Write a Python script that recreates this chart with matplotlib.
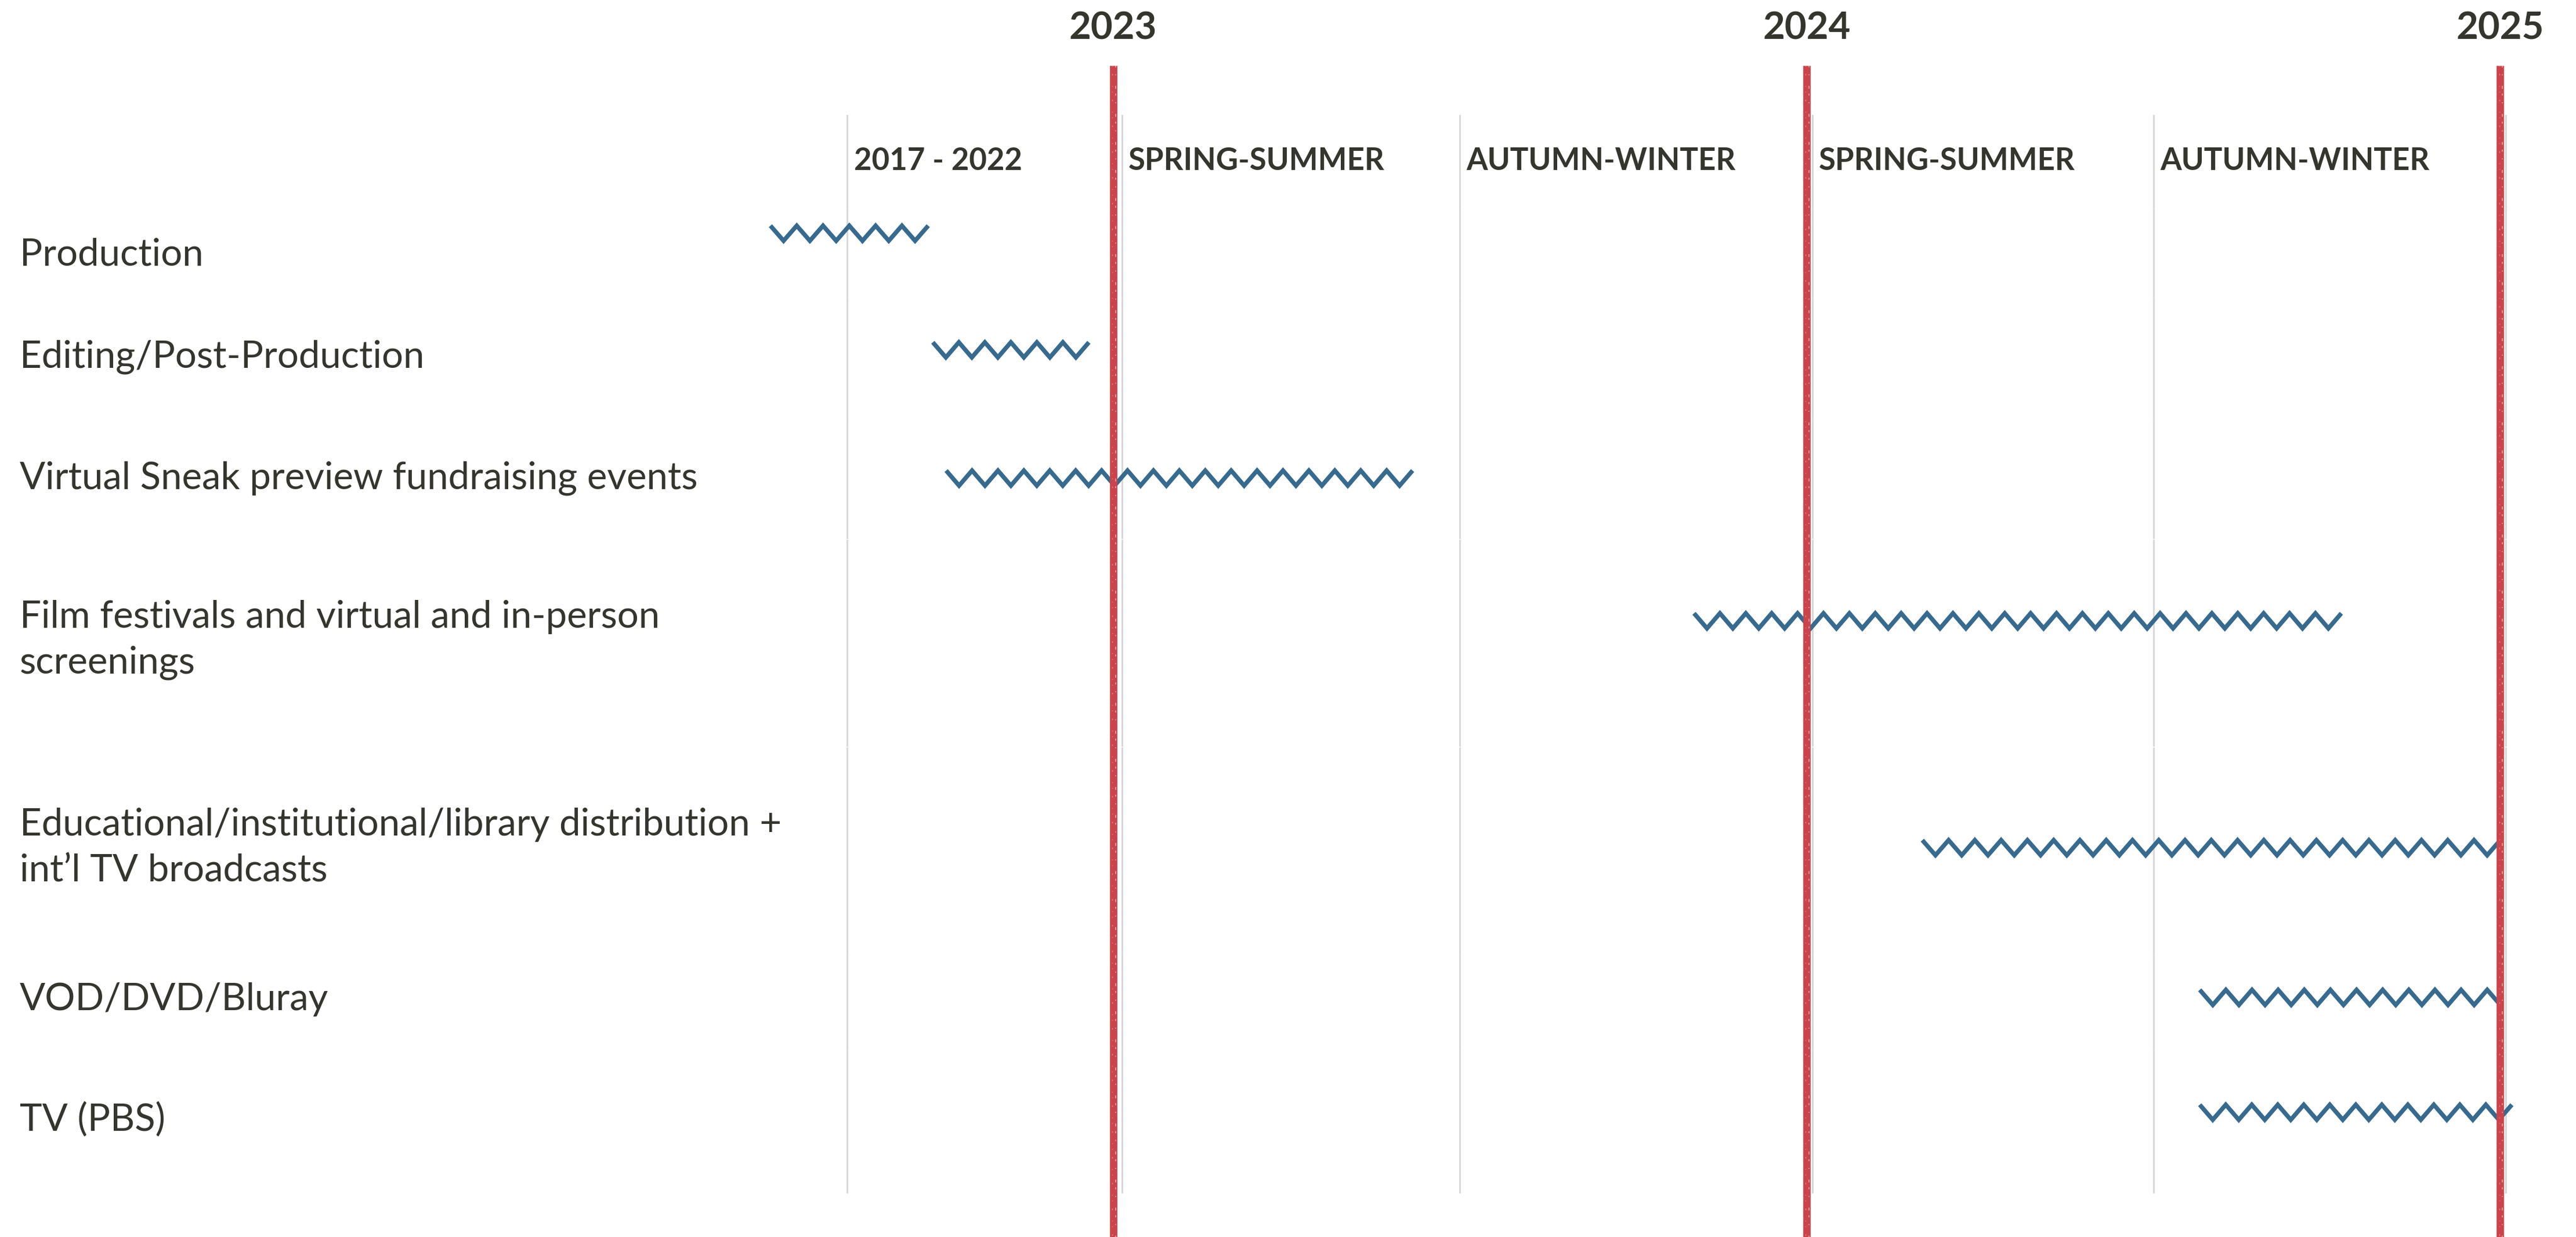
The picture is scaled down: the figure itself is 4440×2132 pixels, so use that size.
import matplotlib.pyplot as plt
import matplotlib.transforms as mtransforms
import numpy as np

plt.rcParams['font.family'] = ['Lato', 'DejaVu Sans']

TEXT_COLOR = '#34352d'
LINE_COLOR = '#376a8e'
RED = '#cb444b'
GRID = '#d6d6d6'

# activities and their spans, in months counted from January 2023
# (the 2017 - 2022 column is squeezed, as in the original timeline)
ACTIVITIES = [
    'Production',
    'Editing/Post-Production',
    'Virtual Sneak preview fundraising events',
    'Film festivals and virtual and in-person\nscreenings',
    'Educational/institutional/library distribution +\nint\u2019l TV broadcasts',
    'VOD/DVD/Bluray',
    'TV (PBS)',
]
START = [-5.93, -3.12, -2.89, 10.05, 14.0, 18.8, 18.8]
END = [-3.2, -0.42, 5.18, 21.25, 24.0, 24.0, 24.2]

PERIODS = ['2017 - 2022', 'SPRING-SUMMER', 'AUTUMN-WINTER', 'SPRING-SUMMER', 'AUTUMN-WINTER']
PERIOD_START = [-4.6, 0.15, 6, 12.1, 18]
PERIOD_END = 24.1

YEARS = ['2023', '2024', '2025']
YEAR_POS = [0, 12, 24]

# layout (vertical positions, top to bottom)
MARK_Y = [4.02, 6.03, 8.24, 10.70, 14.61, 17.19, 19.17]
LABEL_Y = [4.39, 6.15, 8.24, 11.03, 14.61, 17.22, 19.29]
ROW_EDGES = [1.97, 3.59, 5.12, 7.21, 9.29, 12.87, 16.46, 18.10, 20.56]


def zigzag(x0, x1, y, half=0.226, amp=0.13):
    n = max(int(round((x1 - x0) / half)), 1)
    xs = np.linspace(x0, x1, n + 1)
    ys = y + amp * np.where(np.arange(n + 1) % 2 == 0, -1, 1)
    return xs, ys


fig = plt.figure(figsize=(22.2, 10.66), dpi=200)
ax = fig.add_axes([0, 0, 1, 1])
ax.set_xlim(-19.26, 25.31)
ax.set_ylim(21.32, 0)
ax.axis('off')

# column dividers, broken at each row boundary
gap = 0.015
for x in PERIOD_START + [PERIOD_END]:
    for e0, e1 in zip(ROW_EDGES[:-1], ROW_EDGES[1:]):
        ax.plot([x, x], [e0 + gap, e1 - gap], color=GRID, lw=1.0, zorder=1)

# year markers
for x, yr in zip(YEAR_POS, YEARS):
    ax.plot([x, x], [1.13, 21.32], color=RED, lw=4.6, solid_capstyle='butt', zorder=3)
    ax.plot([x - 0.02, x - 0.02], [1.13, 21.32], color='white', lw=0.5, alpha=0.35,
            dashes=(1, 9, 2, 13, 1, 6), zorder=4)
    ax.plot([x + 0.04, x + 0.04], [1.13, 21.32], color='white', lw=0.6, alpha=0.5,
            dashes=(2, 7, 1, 11, 3, 5), zorder=4)
    ax.text(x, 0.68, yr, ha='center', va='baseline', fontsize=23.5, weight='bold',
            color=TEXT_COLOR)

# column headers
for x, name in zip(PERIOD_START, PERIODS):
    ax.annotate(name, (x, 2.93), xytext=(4, 0), textcoords='offset points',
                ha='left', va='baseline', fontsize=19, weight='bold', color=TEXT_COLOR)

# activity labels
lab_tr = mtransforms.blended_transform_factory(fig.transFigure, ax.transData)
for name, y in zip(ACTIVITIES, LABEL_Y):
    ax.text(0.0077, y, name, transform=lab_tr, ha='left', va='center', fontsize=23.5,
            color=TEXT_COLOR, linespacing=1.42)

# activity spans as zigzag lines
for s, e, y in zip(START, END, MARK_Y):
    xs, ys = zigzag(s, e, y)
    ax.plot(xs, ys, color=LINE_COLOR, lw=2.7, solid_joinstyle='miter',
            solid_capstyle='butt', zorder=2)

fig.savefig('out.png', dpi=200, facecolor='white')
